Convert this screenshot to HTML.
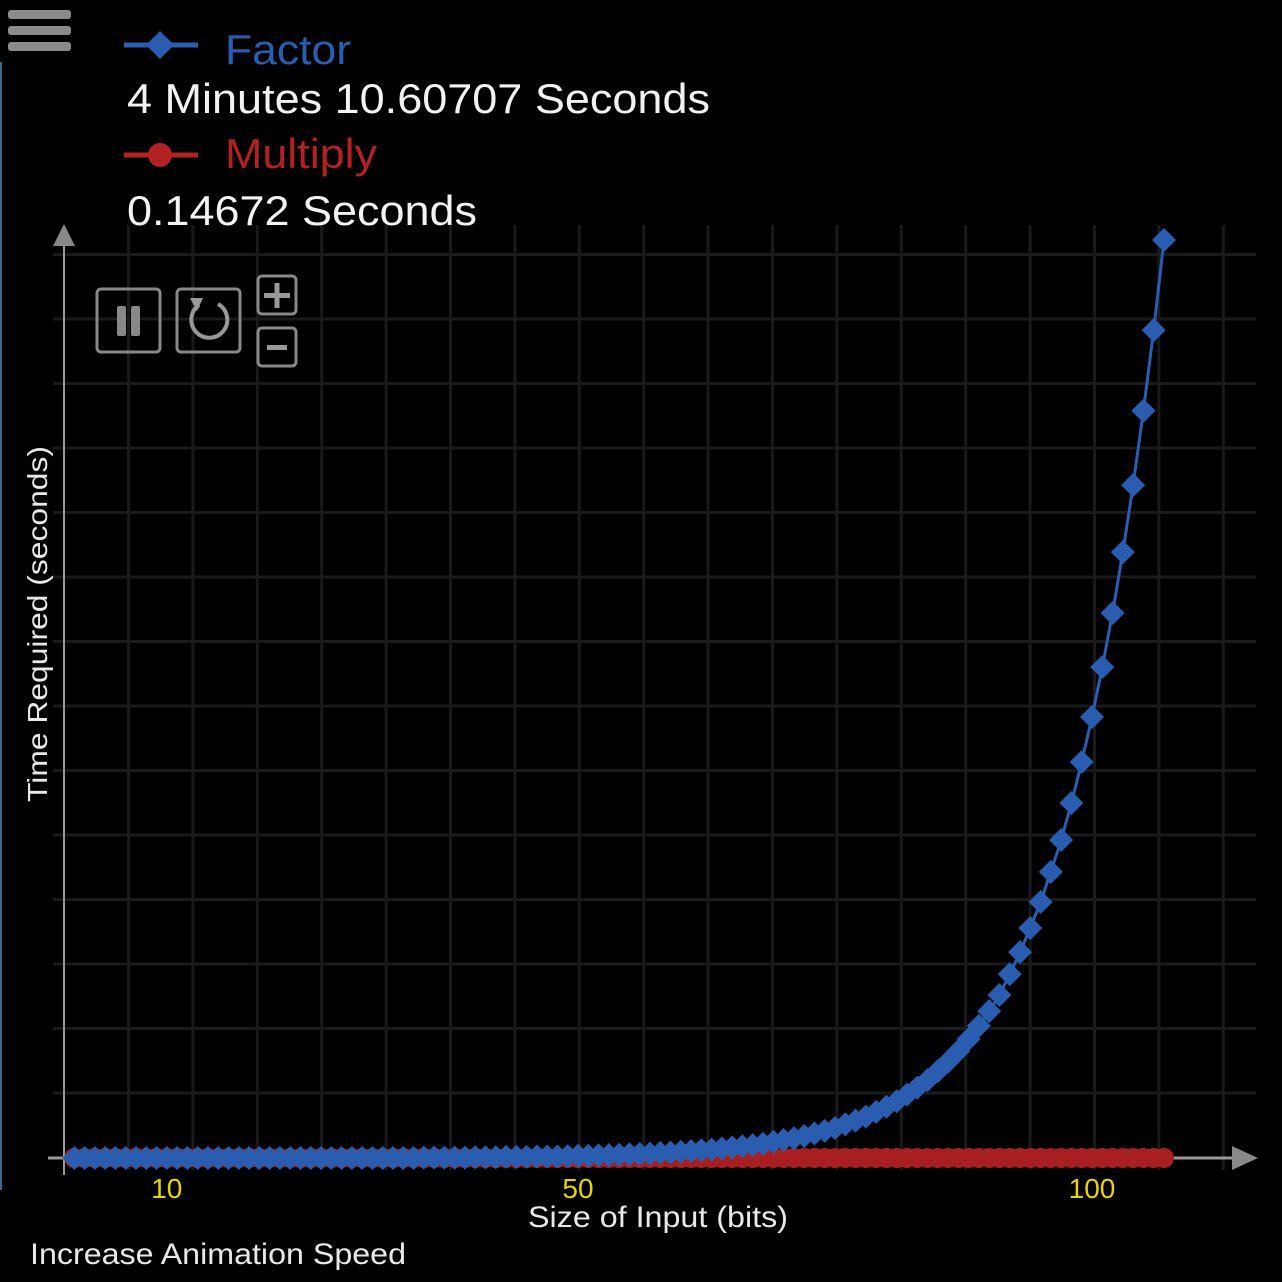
<!DOCTYPE html>
<html><head><meta charset="utf-8"><style>
html,body{margin:0;padding:0;background:#000;}
svg{display:block;font-family:"Liberation Sans",Arial,sans-serif;}
</style></head><body>
<svg id="chart" width="1282" height="1282" viewBox="0 0 1282 1282" xmlns="http://www.w3.org/2000/svg">
<rect width="1282" height="1282" fill="#000"/>
<line x1="1" y1="62" x2="1" y2="1190" stroke="#3a6a8a" stroke-width="2"/>
<g id="grid"></g>
<g id="axes">
<line x1="64" y1="240" x2="64" y2="1175" stroke="#999" stroke-width="2"/>
<polygon points="64,224 53,246 75,246" fill="#888"/>
<line x1="48" y1="1158" x2="1236" y2="1158" stroke="#999" stroke-width="3"/>
<polygon points="1258,1158 1232,1146 1232,1170" fill="#888"/>
</g>
<g id="ticks"></g>
<g id="series-multiply"></g>
<g id="series-factor"></g>
<text x="1" y="0" transform="translate(47,625) rotate(-90)" text-anchor="middle" fill="#e8e8e8" font-size="28" textLength="356" lengthAdjust="spacingAndGlyphs">Time Required (seconds)</text>
<text x="658" y="1227" text-anchor="middle" fill="#e8e8e8" font-size="30" textLength="260" lengthAdjust="spacingAndGlyphs">Size of Input (bits)</text>
<text x="30" y="1264" fill="#e8e8e8" font-size="30" textLength="376" lengthAdjust="spacingAndGlyphs">Increase Animation Speed</text>
<g>
<rect x="8" y="10" width="63" height="9" rx="3" fill="#8a8a8a"/>
<rect x="8" y="26" width="63" height="9" rx="3" fill="#8a8a8a"/>
<rect x="8" y="42" width="63" height="9" rx="3" fill="#8a8a8a"/>
</g>
<g>
<line x1="124" y1="45" x2="198" y2="45" stroke="#2a5db0" stroke-width="5"/>
<polygon points="160,31 174,45 160,59 146,45" fill="#2a5db0"/>
<text x="225" y="64" fill="#2a5db0" font-size="42" textLength="126" lengthAdjust="spacingAndGlyphs">Factor</text>
<text x="127" y="113" fill="#f2f2f2" font-size="42" textLength="583" lengthAdjust="spacingAndGlyphs">4 Minutes 10.60707 Seconds</text>
<line x1="124" y1="155" x2="198" y2="155" stroke="#b22222" stroke-width="5"/>
<circle cx="160" cy="155" r="12" fill="#b22222"/>
<text x="225" y="168" fill="#b22222" font-size="42" textLength="152" lengthAdjust="spacingAndGlyphs">Multiply</text>
<text x="127" y="225" fill="#f2f2f2" font-size="42" textLength="350" lengthAdjust="spacingAndGlyphs">0.14672 Seconds</text>
</g>
<g>
<rect x="97" y="289" width="63" height="63" rx="4" fill="none" stroke="#888" stroke-width="3"/>
<rect x="117" y="306" width="9" height="30" rx="2" fill="#888"/>
<rect x="131" y="306" width="9" height="30" rx="2" fill="#888"/>
</g>
<g>
<rect x="177" y="289" width="63" height="63" rx="4" fill="none" stroke="#888" stroke-width="3"/>
<path d="M199,305 A18,18 0 1 0 218,304" fill="none" stroke="#999" stroke-width="4"/>
<polygon points="190,298 203,298 197,311" fill="#999"/>
</g>
<g>
<rect x="258" y="276" width="38" height="38" rx="4" fill="none" stroke="#888" stroke-width="3"/>
<rect x="264" y="293" width="26" height="5" fill="#999"/>
<rect x="274.5" y="283" width="5" height="25" fill="#999"/>
</g>
<g>
<rect x="258" y="328" width="38" height="38" rx="4" fill="none" stroke="#888" stroke-width="3"/>
<rect x="267" y="345" width="20" height="5" fill="#999"/>
</g>
</svg>
<script>
const bits = [];
for (let b = 1; b <= 107; b++) bits.push(b);
// Factor times in seconds for bits 107 down to 1
const factorDesc = [250.6,226.0,204.0,183.7,165.4,148.8,134.0,120.4,108.1,96.9,86.8,78.1,69.9,62.8,56.2,50.2,44.5,40.1,36.1,32.5,29.2,26.3,23.7,21.3,19.2,17.3,15.5,14.0,12.6,11.3,10.2,9.2,8.2,7.4,6.7,6.0,5.4,4.9,4.4,3.9,3.5,3.2,2.9,2.6,2.3,2.1,1.9,1.7,1.5,1.4,1.2,1.1,1.0,0.9,0.8,0.7,0.6,0.6,0.5,0.4,0.4,0.4,0.3,0.3,0.3,0.2,0.2,0.2,0.1,0.1,0.1,0.1,0.1,0,0,0,0,0,0,0,0,0,0,0,0,0,0,0,0,0,0,0,0,0,0,0,0,0,0,0,0,0,0,0,0,0,0];
const factorValues = factorDesc.slice().reverse();
const multiplyValues = [0,0,0,0,0,0,0,0,0,0,0,0,0,0,0,0,0,0,0,0,0,0,0,0,0,0,0,0,0,0,0,0,0,0,0,0,0,0,0,0,0,0,0,0,0,0,0,0,0,0,0,0,0,0,0,0,0,0,0,0,0,0,0,0,0,0,0,0,0,0,0,0,0,0,0,0,0,0,0,0,0,0,0,0,0,0,0,0,0,0,0,0,0,0,0,0,0,0,0,0,0,0,0,0,0.01,0.01,0.01];
const xTicks = [10, 50, 100];
const xTickLabels = ["10", "50", "100"];

const NS = "http://www.w3.org/2000/svg";
const xs = b => 64 + b * 10.28;
const ys = v => 1158 - v * 3.663;

const grid = document.getElementById("grid");
for (let gx = 128.5; gx < 1260; gx += 64.4) {
  const l = document.createElementNS(NS, "line");
  l.setAttribute("x1", gx); l.setAttribute("x2", gx);
  l.setAttribute("y1", 225); l.setAttribute("y2", 1170);
  l.setAttribute("stroke", "#1a1a1a"); l.setAttribute("stroke-width", "3");
  
  
  grid.appendChild(l);
}
for (let gy = 1093; gy > 230; gy -= 64.5) {
  const l = document.createElementNS(NS, "line");
  l.setAttribute("x1", 53); l.setAttribute("x2", 1256);
  l.setAttribute("y1", gy); l.setAttribute("y2", gy);
  l.setAttribute("stroke", "#1a1a1a"); l.setAttribute("stroke-width", "3");
  
  
  grid.appendChild(l);
}

const ticks = document.getElementById("ticks");
xTicks.forEach((t, i) => {
  const tx = document.createElementNS(NS, "text");
  tx.setAttribute("x", xs(t)); tx.setAttribute("y", 1198);
  tx.setAttribute("text-anchor", "middle");
  tx.setAttribute("fill", "#e6d400"); tx.setAttribute("font-size", "28");
  tx.textContent = xTickLabels[i];
  
  
  ticks.appendChild(tx);
});

function drawLine(g, vals, color, name) {
  const p = document.createElementNS(NS, "polyline");
  p.setAttribute("points", bits.map((b, i) => xs(b) + "," + ys(vals[i])).join(" "));
  p.setAttribute("fill", "none"); p.setAttribute("stroke", color); p.setAttribute("stroke-width", "3");
  
  
  g.appendChild(p);
}
const gm = document.getElementById("series-multiply");
drawLine(gm, multiplyValues, "#b22222", "multiply-line");
bits.forEach((b, i) => {
  const c = document.createElementNS(NS, "circle");
  c.setAttribute("cx", xs(b)); c.setAttribute("cy", ys(multiplyValues[i])); c.setAttribute("r", 10);
  c.setAttribute("fill", "#a81f22");
  
  
  gm.appendChild(c);
});
const gf = document.getElementById("series-factor");
drawLine(gf, factorValues, "#2a5db0", "factor-line");
bits.forEach((b, i) => {
  const x = xs(b), y = ys(factorValues[i]);
  const d = document.createElementNS(NS, "polygon");
  d.setAttribute("points", `${x},${y-12} ${x+12},${y} ${x},${y+12} ${x-12},${y}`);
  d.setAttribute("fill", "#2a5db0");
  
  
  gf.appendChild(d);
});
</script>
</body></html>
